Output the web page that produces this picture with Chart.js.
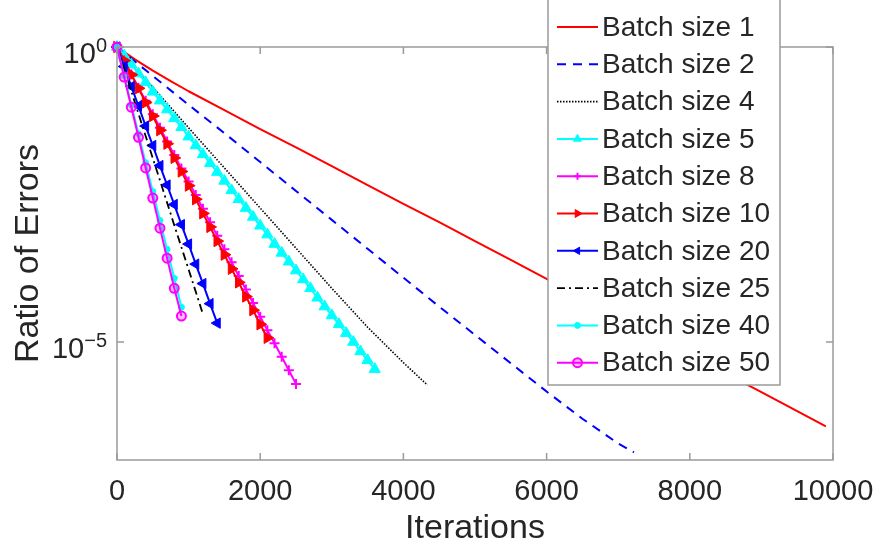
<!DOCTYPE html>
<html>
<head>
<meta charset="utf-8">
<script src="https://cdn.jsdelivr.net/npm/chart.js@4/dist/chart.umd.min.js"></script>
<style>
html,body{margin:0;padding:0;background:#ffffff;}
#wrap{width:881px;height:550px;}
</style>
</head>
<body>
<div id="wrap"><canvas id="c" width="881" height="550"></canvas></div>
<script>
// ---------------- data ----------------
const seriesLabels = ['Batch size 1','Batch size 2','Batch size 4','Batch size 5','Batch size 8',
                      'Batch size 10','Batch size 20','Batch size 25','Batch size 40','Batch size 50'];

const xTickValues = [0, 2000, 4000, 6000, 8000, 10000];
const yTickValues = [1, 1e-5];
const yTickExponents = ['0', '\u22125'];

// iteration checkpoints (markers are every 100 iterations)
const iters100 = [0,100,200,300,400,500,600,700,800,900,1000,1100,1200,1300,1400,1500,1600,1700,1800,
                  1900,2000,2100,2200,2300,2400,2500,2600,2700,2800,2900,3000,3100,3200,3300,3400,3500,3600];

// log10 of the ratio of errors
const itersB1 = [0,250,500,750,1000,1500,2000,2500,3000,3500,4000,4500,5000,5500,6000,6500,7000,7500,8000,8500,9000,9500,9900];
const logB1   = [0,-0.21,-0.40,-0.58,-0.75,-1.07,-1.39,-1.70,-2.02,-2.34,-2.66,-2.97,-3.29,-3.61,-3.93,-4.25,-4.57,-4.89,-5.21,-5.53,-5.85,-6.17,-6.43];

const itersB2 = [0,500,1000,1500,2000,2500,3000,3500,4000,4500,5000,5500,6000,6500,7000,7220];
const logB2   = [0,-0.49,-0.98,-1.46,-1.95,-2.44,-2.93,-3.42,-3.91,-4.40,-4.88,-5.36,-5.84,-6.30,-6.72,-6.87];

const itersB4 = [0,500,1000,1500,2000,2500,3000,3500,4000,4335];
const logB4   = [0,-0.68,-1.37,-2.05,-2.73,-3.41,-4.09,-4.75,-5.35,-5.73];

const logB5   = [0,-0.15,-0.30,-0.45,-0.60,-0.76,-0.91,-1.06,-1.21,-1.36,-1.52,-1.67,-1.82,-1.97,-2.12,-2.27,-2.43,-2.58,-2.73,
                 -2.88,-3.03,-3.18,-3.34,-3.49,-3.64,-3.79,-3.94,-4.09,-4.25,-4.40,-4.55,-4.70,-4.85,-5.00,-5.16,-5.31,-5.46];

const logB8   = [0,-0.23,-0.46,-0.69,-0.91,-1.14,-1.37,-1.60,-1.83,-2.06,-2.28,-2.51,-2.74,-2.97,-3.20,-3.43,-3.65,-3.88,
                 -4.11,-4.34,-4.57,-4.80,-5.02,-5.25,-5.48,-5.71];

const logB10  = [0,-0.23,-0.47,-0.70,-0.94,-1.17,-1.41,-1.64,-1.88,-2.11,-2.35,-2.58,-2.82,-3.05,-3.29,-3.52,-3.76,-3.99,
                 -4.23,-4.46,-4.70,-4.93];

const logB20  = [0,-0.33,-0.67,-1.00,-1.34,-1.67,-2.01,-2.34,-2.67,-3.01,-3.34,-3.68,-4.01,-4.35,-4.68];

const itersB25 = [0,200,400,600,800,1000,1190];
const logB25   = [0,-0.75,-1.51,-2.26,-3.02,-3.77,-4.49];

const logB40  = [0,-0.49,-0.98,-1.47,-1.96,-2.45,-2.94,-3.43,-3.92,-4.41];
const logB50  = [0,-0.51,-1.02,-1.53,-2.05,-2.56,-3.07,-3.58,-4.09,-4.56];

// ---------------- build ----------------
const FONT = '"Liberation Sans", Arial, Helvetica, sans-serif';
const TEXT = '#262626';

function pts(iters, logs) {
  return logs.map((v, i) => ({ x: iters[i], y: Math.pow(10, v) }));
}

const seriesData = [
  pts(itersB1, logB1), pts(itersB2, logB2), pts(itersB4, logB4), pts(iters100, logB5), pts(iters100, logB8),
  pts(iters100, logB10), pts(iters100, logB20), pts(itersB25, logB25), pts(iters100, logB40), pts(iters100, logB50)
];

const seriesStyles = [
  { color: '#ff0000', dash: [],          style: false },
  { color: '#0000ff', dash: [9, 7],      style: false },
  { color: '#000000', dash: [1.5, 1.5],  style: false, width: 1.6 },
  { color: '#00ffff', dash: [],          style: 'triangle', rot: 0,   r: 6.5 },
  { color: '#ff00ff', dash: [],          style: 'cross',    rot: 0,   r: 5, bw: 2 },
  { color: '#ff0000', dash: [],          style: 'triangle', rot: 90,  r: 6.5 },
  { color: '#0000ff', dash: [],          style: 'triangle', rot: -90, r: 6 },
  { color: '#000000', dash: [8, 4, 2, 4], style: false, width: 1.8 },
  { color: '#00ffff', dash: [],          style: 'circle',   rot: 0,   r: 3 },
  { color: '#ff00ff', dash: [],          style: 'circle',   rot: 0,   r: 4.5, fill: 'rgba(255,0,255,0.25)', bw: 2 }
];

const legendMarkerScale = 0.7;

const datasets = seriesLabels.map((lab, i) => {
  const s = seriesStyles[i];
  return {
    label: lab,
    data: seriesData[i],
    borderColor: s.color,
    backgroundColor: s.color,
    borderWidth: s.width || 2,
    borderDash: s.dash,
    pointStyle: s.style || 'circle',
    pointRadius: s.style ? s.r : 0,
    pointRotation: s.rot || 0,
    pointBackgroundColor: s.fill || s.color,
    pointBorderColor: s.color,
    pointBorderWidth: s.bw || 1,
    tension: 0,
    fill: false,
    clip: false,
    order: seriesLabels.length - i
  };
});

function drawMarker(ctx, ds, x, y) {
  if (!ds.pointRadius) return;
  const r = ds.pointStyle === 'circle' ? ds.pointRadius : ds.pointRadius * legendMarkerScale;
  ctx.save();
  ctx.setLineDash([]);
  ctx.fillStyle = ds.pointBackgroundColor;
  ctx.strokeStyle = ds.pointBorderColor;
  ctx.lineWidth = ds.pointBorderWidth;
  if (Chart.helpers && Chart.helpers.drawPoint) {
    Chart.helpers.drawPoint(ctx, { pointStyle: ds.pointStyle, rotation: ds.pointRotation,
      radius: r, borderWidth: ds.pointBorderWidth }, x, y);
  } else {
    ctx.beginPath(); ctx.arc(x, y, r, 0, Math.PI * 2); ctx.fill(); ctx.stroke();
  }
  ctx.restore();
}

const framePlugin = {
  id: 'frame',
  afterDatasetsDraw(chart) {
    const ctx = chart.ctx, ca = chart.chartArea;
    const xs = chart.scales.x, ys = chart.scales.y;
    ctx.save();
    ctx.strokeStyle = '#9a9a9a';
    ctx.lineWidth = 1.5;
    ctx.setLineDash([]);
    ctx.strokeRect(ca.left, ca.top, ca.right - ca.left, ca.bottom - ca.top);
    const tl = 7;
    ctx.beginPath();
    xTickValues.forEach(v => {
      const px = xs.getPixelForValue(v);
      ctx.moveTo(px, ca.bottom); ctx.lineTo(px, ca.bottom - tl);
      ctx.moveTo(px, ca.top); ctx.lineTo(px, ca.top + tl);
    });
    yTickValues.forEach(v => {
      const py = ys.getPixelForValue(v);
      ctx.moveTo(ca.left, py); ctx.lineTo(ca.left + tl, py);
      ctx.moveTo(ca.right, py); ctx.lineTo(ca.right - tl, py);
    });
    ctx.stroke();
    // y tick labels 10^n
    ctx.fillStyle = TEXT;
    ctx.textBaseline = 'alphabetic';
    yTickValues.forEach((v, i) => {
      const py = ys.getPixelForValue(v);
      const rightX = ca.left - 10;
      ctx.font = '20px ' + FONT;
      const ew = ctx.measureText(yTickExponents[i]).width;
      ctx.textAlign = 'left';
      ctx.fillText(yTickExponents[i], rightX - ew, py + 5);
      ctx.font = '29px ' + FONT;
      ctx.textAlign = 'right';
      ctx.fillText('10', rightX - ew, py + 16);
    });
    ctx.restore();
  },
  afterDraw(chart) {
    const ctx = chart.ctx;
    const box = { left: 548, top: -2, right: 780, bottom: 385 };
    ctx.save();
    ctx.fillStyle = '#ffffff';
    ctx.fillRect(box.left, box.top, box.right - box.left, box.bottom - box.top);
    ctx.strokeStyle = '#9a9a9a';
    ctx.lineWidth = 1.5;
    ctx.strokeRect(box.left, box.top, box.right - box.left, box.bottom - box.top);
    const y0 = 27, step = 37.3, lx0 = 557, lx1 = 598, tx = 602;
    chart.data.datasets.forEach((ds, i) => {
      const y = y0 + i * step;
      ctx.save();
      ctx.strokeStyle = ds.borderColor;
      ctx.lineWidth = ds.borderWidth;
      ctx.setLineDash(ds.borderDash || []);
      ctx.beginPath(); ctx.moveTo(lx0, y); ctx.lineTo(lx1, y); ctx.stroke();
      ctx.restore();
      drawMarker(ctx, ds, (lx0 + lx1) / 2, y);
      ctx.fillStyle = TEXT;
      ctx.font = '28px ' + FONT;
      ctx.textAlign = 'left';
      ctx.textBaseline = 'middle';
      ctx.fillText(ds.label, tx, y + 1);
    });
    ctx.restore();
  }
};

new Chart(document.getElementById('c'), {
  type: 'line',
  data: { datasets },
  options: {
    responsive: false,
    animation: false,
    devicePixelRatio: 1,
    layout: { padding: { top: 47, right: 48, left: 0, bottom: 0 } },
    plugins: { legend: { display: false }, tooltip: { enabled: false } },
    elements: { line: { borderJoinStyle: 'round' } },
    scales: {
      x: {
        type: 'linear',
        min: 0, max: 10000,
        afterBuildTicks: (s) => { s.ticks = xTickValues.map(v => ({ value: v })); },
        afterFit: (s) => { s.height = 90; s.paddingRight = 0; s.paddingLeft = 0; },
        grid: { display: false, drawTicks: false },
        border: { display: false },
        ticks: {
          padding: 15,
          color: TEXT,
          font: { family: FONT, size: 29 },
          maxRotation: 0,
          callback: (v) => String(v)
        },
        title: { display: true, text: 'Iterations', color: TEXT,
                 font: { family: FONT, size: 34 }, padding: { top: 0, bottom: 1 } }
      },
      y: {
        type: 'logarithmic',
        min: 1e-7, max: 1,
        afterBuildTicks: (s) => { s.ticks = yTickValues.map(v => ({ value: v })); },
        afterFit: (s) => { s.width = 117; s.paddingTop = 0; s.paddingBottom = 0; },
        grid: { display: false, drawTicks: false },
        border: { display: false },
        ticks: { display: false },
        title: { display: true, text: 'Ratio of Errors', color: TEXT,
                 font: { family: FONT, size: 34 }, padding: { top: 8, bottom: 0 } }
      }
    }
  },
  plugins: [framePlugin]
});
</script>
</body>
</html>
